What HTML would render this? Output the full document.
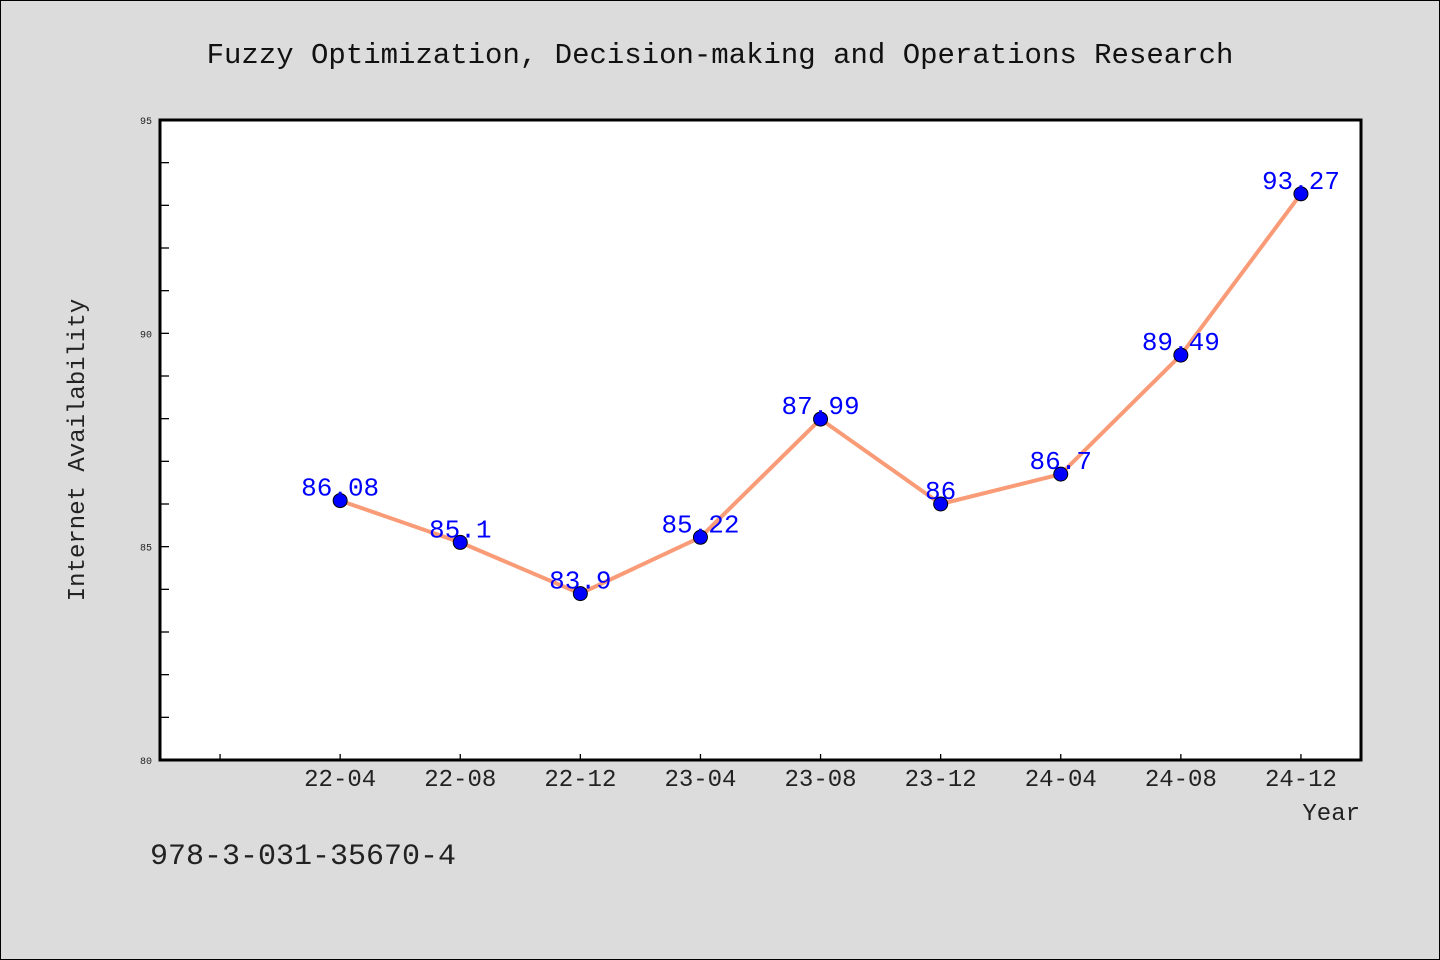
<!DOCTYPE html>
<html><head><meta charset="utf-8"><style>
html,body{margin:0;padding:0;background:#dcdcdc;}
svg{display:block;font-family:"WenQuanYi Zen Hei","Liberation Mono",monospace;}
</style></head><body>
<svg width="1440" height="960" viewBox="0 0 1440 960">
<rect x="0.5" y="0.5" width="1439" height="959" fill="#dcdcdc" stroke="#000"/>
<text x="720" y="63" text-anchor="middle" font-size="29" fill="#111">Fuzzy Optimization, Decision-making and Operations Research</text>
<rect x="160" y="120" width="1201" height="640" fill="#fff"/>
<g id="axes"></g>
<g id="series"></g>
<rect x="160" y="120" width="1201" height="640" fill="none" stroke="#000" stroke-width="3"/>
<text transform="translate(84,450) rotate(-90)" text-anchor="middle" font-size="24" fill="#222">Internet Availability</text>
<text x="1360" y="820" text-anchor="end" font-size="24" fill="#222">Year</text>
<text x="150" y="864" font-size="30" fill="#222">978-3-031-35670-4</text>
</svg>
<script>
const categories=["22-04","22-08","22-12","23-04","23-08","23-12","24-04","24-08","24-12"];
const values=[86.08,85.1,83.9,85.22,87.99,86,86.7,89.49,93.27];
const valueLabels=["86.08","85.1","83.9","85.22","87.99","86","86.7","89.49","93.27"];
const yTicks=[80,85,90,95];
const NS="http://www.w3.org/2000/svg";
const L=160,R=1361,T=120,B=760,yMin=80,yMax=95;
function xs(i){return L+(i+1.5)*(R-L)/(categories.length+1);}
function ys(v){return B-(v-yMin)/(yMax-yMin)*(B-T);}
function mk(t,a,p){const e=document.createElementNS(NS,t);for(const k in a)e.setAttribute(k,a[k]);p.appendChild(e);return e;}
const ax=document.getElementById('axes'),se=document.getElementById('series');
for(let v=yMin;v<=yMax;v++){
  const y=ys(v);
  const t=mk('line',{x1:L,x2:L+9,y1:y,y2:y,stroke:'#000','stroke-width':1.3},ax);
  
  
}
yTicks.forEach(v=>{
  const t=mk('text',{x:L-8,y:ys(v)+4,'text-anchor':'end','font-size':10,fill:'#222'},ax);
  t.textContent=v;
  
  
});
for(let i=-1;i<categories.length;i++){
  const x=xs(i);
  const t=mk('line',{x1:x,x2:x,y1:B,y2:B-6,stroke:'#000','stroke-width':1.3},ax);
  
  
  if(i>=0){
    const l=mk('text',{x:x,y:B+26,'text-anchor':'middle','font-size':24,fill:'#222'},ax);
    l.textContent=categories[i];
    
    
  }
}
const line=mk('polyline',{points:values.map((v,i)=>xs(i)+','+ys(v)).join(' '),fill:'none',stroke:'#f99b77','stroke-width':4,'stroke-linejoin':'round'},se);


values.forEach((v,i)=>{
  const c=mk('circle',{cx:xs(i),cy:ys(v),r:7,fill:'#0000ff',stroke:'#000','stroke-width':1},se);
  
  
  const t=mk('text',{x:xs(i),y:ys(v)-5,'text-anchor':'middle','font-size':26,fill:'#0000ff'},se);
  t.textContent=valueLabels[i];
  
  
});
</script>
</body></html>
